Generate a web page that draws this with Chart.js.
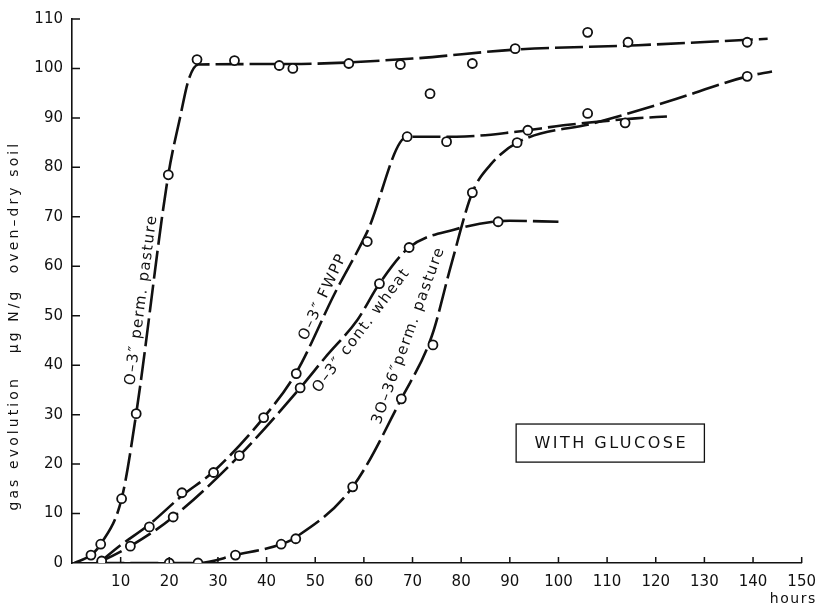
<!DOCTYPE html>
<html>
<head>
<meta charset="utf-8">
<script src="https://cdn.jsdelivr.net/npm/chart.js@4.4.0/dist/chart.umd.min.js"></script>
<style>
  html, body { margin: 0; padding: 0; background: #fff; }
  #wrap { width: 826px; height: 607px; }
</style>
</head>
<body>
<div id="wrap"><canvas id="gasChart"></canvas></div>
<script>
// Measured gas evolution (hours, µg N/g) and the hand-fitted curve through each set

// 0-3" permanent pasture
const permHours = [3.9, 5.9, 10.2, 13.2, 19.8, 25.7, 33.4, 42.6, 45.4, 56.9, 67.5, 82.3, 91.1, 106, 114.3, 138.8];
const permGas   = [1.6, 3.8, 13, 30.2, 78.5, 101.8, 101.6, 100.6, 100, 101, 100.8, 101, 104, 107.3, 105.3, 105.3];
const permCurveHours = [0.5, 3.9, 5.9, 10.2, 13.2, 19.8, 22.2, 24, 26, 45, 70, 91, 116.4, 143];
const permCurveGas   = [0, 1.6, 3.8, 13, 30.2, 78.5, 90, 97.8, 100.8, 100.9, 102, 103.8, 104.7, 106];

// 0-3" FWPP
const fwppHours = [15.9, 22.6, 29.1, 39.4, 46.1, 60.7, 68.9, 77, 93.7, 113.7];
const fwppGas   = [7.3, 14.2, 18.3, 29.4, 38.3, 65, 86.2, 85.2, 87.5, 89];
const fwppCurveHours = [5.5, 10, 15.9, 22.6, 29.1, 39.4, 46.1, 54, 60.7, 68.9, 79, 91.3, 101, 115.8, 122.3];
const fwppCurveGas   = [0, 3.6, 7.8, 13.6, 18.5, 29.4, 38.5, 54.5, 67, 86.2, 86.2, 87.2, 88.5, 89.9, 90.3];

// 0-3" continuous wheat
const wheatHours = [6.1, 12, 20.8, 34.4, 46.9, 63.2, 69.3, 87.6];
const wheatGas   = [0.4, 3.4, 9.3, 21.7, 35.4, 56.5, 63.8, 69];
const wheatCurveHours = [5, 6.1, 12, 20.8, 34.4, 46.9, 52, 58.7, 63.2, 69.3, 78.5, 89.9, 100];
const wheatCurveGas   = [0, 0.4, 3.4, 9.3, 21.7, 35.4, 41.5, 49.2, 56.5, 63.8, 67.4, 69.2, 69];

// 30-36" permanent pasture
const deepHours = [20, 25.9, 33.6, 43, 46, 57.7, 67.7, 74.2, 82.3, 91.5, 106, 138.8];
const deepGas   = [0, 0, 1.6, 3.8, 4.9, 15.4, 33.2, 44.1, 74.9, 85, 90.9, 98.4];
const deepCurveHours = [5, 20, 25.9, 33.6, 43, 46, 57.7, 67.7, 74, 78, 82.3, 86, 91.5, 107.6, 122.5, 138.8, 143.9];
const deepCurveGas   = [0, 0, 0, 1.6, 3.8, 5.2, 15.4, 33.2, 46, 60.5, 74.9, 80.5, 85, 89, 93.3, 98.4, 99.4];

// stray reading off all curves
const strayHours = [73.6];
const strayGas   = [94.9];

const xTicks = [0, 10, 20, 30, 40, 50, 60, 70, 80, 90, 100, 110, 120, 130, 140, 150];
const yTicks = [0, 10, 20, 30, 40, 50, 60, 70, 80, 90, 100, 110];

// curve labels: text, centre (hours, gas), angle in degrees
const curveLabels = [
  { text: 'O\u20133\u2033 perm. pasture', x: 14.3, y: 53.2, angle: -82.5 },
  { text: 'O\u20133\u2033 FWPP', x: 51.6, y: 53.8, angle: -65 },
  { text: 'O\u20133\u2033 cont. wheat', x: 59.5, y: 47, angle: -53 },
  { text: '3O\u201336\u2033perm. pasture', x: 69.2, y: 46, angle: -70 }
];
const boxText = 'WITH GLUCOSE';
const boxRange = { x0: 91.3, x1: 130, y0: 20.4, y1: 28.1 };

const FONT = '"DejaVu Sans", sans-serif';

function pts(xs, ys) {
  return xs.map((x, i) => ({ x: x, y: ys[i] }));
}

function curve(xs, ys) {
  return {
    type: 'line',
    data: pts(xs, ys),
    borderColor: '#111',
    borderWidth: 2.6,
    borderDash: [28, 6],
    pointRadius: 0,
    cubicInterpolationMode: 'monotone',
    fill: false,
    order: 2
  };
}

function marks(xs, ys) {
  return {
    type: 'scatter',
    data: pts(xs, ys),
    showLine: false,
    pointStyle: 'circle',
    pointRadius: 4.5,
    pointBorderWidth: 1.8,
    pointBorderColor: '#111',
    pointBackgroundColor: '#fff',
    order: 1
  };
}

// inward tick marks, axis title, curve names and the boxed note
const annotations = {
  id: 'annotations',
  afterDraw(chart) {
    const ctx = chart.ctx;
    const xs = chart.scales.x, ys = chart.scales.y;
    const area = chart.chartArea;
    ctx.save();
    ctx.strokeStyle = '#111';
    ctx.lineWidth = 1.5;
    ctx.beginPath();
    yTicks.forEach(v => {
      if (v === 0) return;
      const py = ys.getPixelForValue(v);
      ctx.moveTo(area.left, py);
      ctx.lineTo(area.left + 8, py);
    });
    xTicks.forEach(v => {
      if (v === 0) return;
      const px = xs.getPixelForValue(v);
      ctx.moveTo(px, area.bottom);
      ctx.lineTo(px, area.bottom - 6);
    });
    ctx.stroke();

    ctx.fillStyle = '#111';
    ctx.textBaseline = 'middle';

    // y axis title
    ctx.save();
    ctx.translate(area.left - 58, ys.getPixelForValue(48));
    ctx.rotate(-Math.PI / 2);
    ctx.font = '14px ' + FONT;
    ctx.letterSpacing = '3.1px';
    ctx.textAlign = 'center';
    ctx.fillText('gas evolution   \u00b5g N/g  oven\u2013dry soil', 0, 0);
    ctx.restore();

    // x axis unit
    ctx.save();
    ctx.font = '14px ' + FONT;
    ctx.letterSpacing = '1.5px';
    ctx.textAlign = 'right';
    ctx.fillText('hours', area.right + 15, area.bottom + 36);
    ctx.restore();

    // curve names
    curveLabels.forEach(l => {
      ctx.save();
      ctx.translate(xs.getPixelForValue(l.x), ys.getPixelForValue(l.y));
      ctx.rotate(l.angle * Math.PI / 180);
      ctx.font = '15px ' + FONT;
      ctx.letterSpacing = '1.5px';
      ctx.textAlign = 'center';
      ctx.fillText(l.text, 0, 0);
      ctx.restore();
    });

    // boxed note
    const bx0 = xs.getPixelForValue(boxRange.x0), bx1 = xs.getPixelForValue(boxRange.x1);
    const by0 = ys.getPixelForValue(boxRange.y1), by1 = ys.getPixelForValue(boxRange.y0);
    ctx.lineWidth = 1.3;
    ctx.strokeRect(bx0, by0, bx1 - bx0, by1 - by0);
    ctx.font = '16px ' + FONT;
    ctx.letterSpacing = '2.5px';
    ctx.textAlign = 'center';
    ctx.fillText(boxText, (bx0 + bx1) / 2 + 1, (by0 + by1) / 2 + 1);
    ctx.restore();
  }
};

new Chart(document.getElementById('gasChart'), {
  data: {
    datasets: [
      marks(permHours, permGas),
      marks(fwppHours, fwppGas),
      marks(wheatHours, wheatGas),
      marks(deepHours, deepGas),
      marks(strayHours, strayGas),
      curve(permCurveHours, permCurveGas),
      curve(fwppCurveHours, fwppCurveGas),
      curve(wheatCurveHours, wheatCurveGas),
      curve(deepCurveHours, deepCurveGas)
    ]
  },
  options: {
    responsive: true,
    maintainAspectRatio: false,
    animation: false,
    layout: { padding: { left: 0, right: 18, top: 19, bottom: 0 } },
    plugins: {
      legend: { display: false },
      tooltip: { enabled: false }
    },
    scales: {
      x: {
        type: 'linear',
        min: 0,
        max: 150,
        afterBuildTicks: s => { s.ticks = xTicks.map(v => ({ value: v })); },
        afterFit: s => { s.height = 44; },
        grid: { display: false, drawTicks: false },
        border: { display: true, color: '#111', width: 1.6 },
        ticks: {
          color: '#111',
          padding: 10,
          maxRotation: 0,
          font: { family: FONT, size: 15 },
          callback: v => (v === 0 ? '' : String(v))
        }
      },
      y: {
        type: 'linear',
        min: 0,
        max: 110,
        afterBuildTicks: s => { s.ticks = yTicks.map(v => ({ value: v })); },
        afterFit: s => { s.width = 72; },
        grid: { display: false, drawTicks: false },
        border: { display: true, color: '#111', width: 1.6 },
        ticks: {
          color: '#111',
          padding: 9,
          font: { family: FONT, size: 15 },
          callback: v => String(v)
        }
      }
    }
  },
  plugins: [annotations]
});
</script>
</body>
</html>
